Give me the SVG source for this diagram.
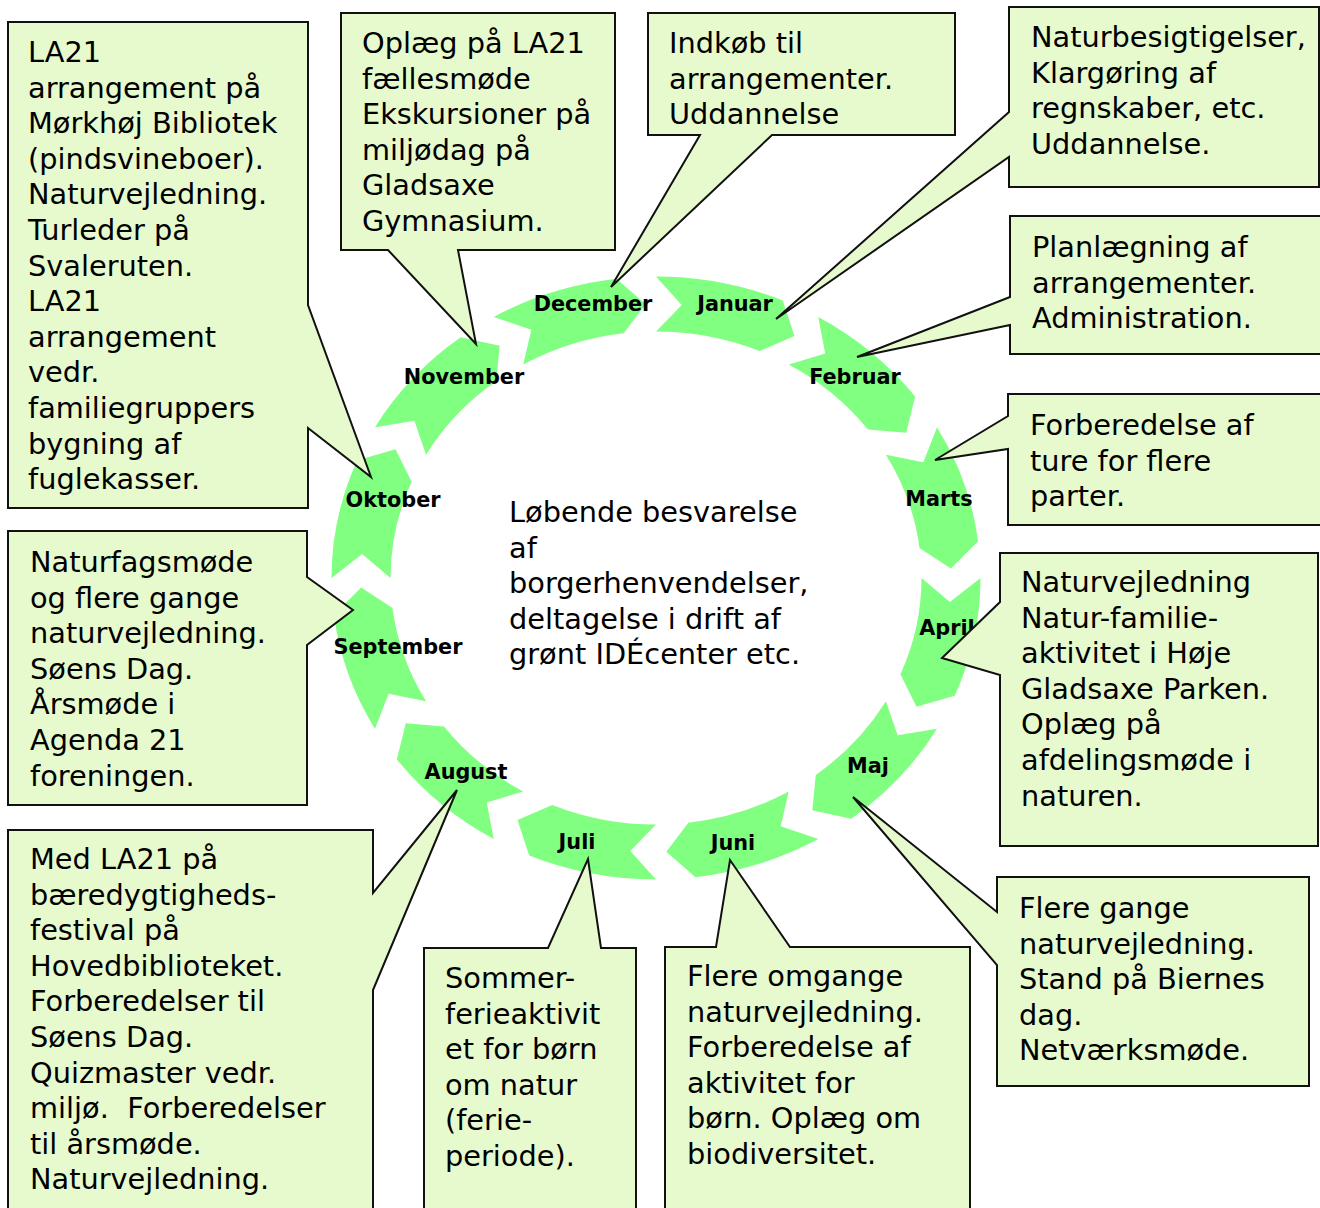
<svg xmlns="http://www.w3.org/2000/svg" width="1320" height="1208" viewBox="0 0 1320 1208">
<style>
.arr{fill:#80FF80}
.mon{font-family:"DejaVu Sans",Verdana,sans-serif;font-weight:bold;font-size:20.8px;fill:#000;text-anchor:middle}
.co{fill:#E6FACE;stroke:#111;stroke-width:2;stroke-linejoin:miter}
.t{font-family:"DejaVu Sans",Verdana,sans-serif;font-size:28.8px;fill:#000;white-space:pre}
</style>
<defs>
<path id="arrow" d="M1.1,0 A1.1,1.1 0 0 1 1.01255,0.42977 L0.88295,0.46947 L0.82845,0.35163 A0.9,0.9 0 0 0 0.9,0 L0.99619,0.08716 Z"/>
</defs>
<rect width="1320" height="1208" fill="#fff"/>
<g id="connectors">
<g id="m-januar"><use href="#arrow" class="arr" transform="translate(656,578) scale(295,274) rotate(270)"/><text class="mon" x="735" y="311">Januar</text></g>
<g id="m-februar"><use href="#arrow" class="arr" transform="translate(656,578) scale(295,274) rotate(300)"/><text class="mon" x="855" y="384">Februar</text></g>
<g id="m-marts"><use href="#arrow" class="arr" transform="translate(656,578) scale(295,274) rotate(330)"/><text class="mon" x="939" y="506">Marts</text></g>
<g id="m-april"><use href="#arrow" class="arr" transform="translate(656,578) scale(295,274) rotate(0)"/><text class="mon" x="947" y="635">April</text></g>
<g id="m-maj"><use href="#arrow" class="arr" transform="translate(656,578) scale(295,274) rotate(30)"/><text class="mon" x="868" y="773">Maj</text></g>
<g id="m-juni"><use href="#arrow" class="arr" transform="translate(656,578) scale(295,274) rotate(60)"/><text class="mon" x="733" y="850">Juni</text></g>
<g id="m-juli"><use href="#arrow" class="arr" transform="translate(656,578) scale(295,274) rotate(90)"/><text class="mon" x="577" y="849">Juli</text></g>
<g id="m-august"><use href="#arrow" class="arr" transform="translate(656,578) scale(295,274) rotate(120)"/><text class="mon" x="466" y="779">August</text></g>
<g id="m-september"><use href="#arrow" class="arr" transform="translate(656,578) scale(295,274) rotate(150)"/><text class="mon" x="398" y="654">September</text></g>
<g id="m-oktober"><use href="#arrow" class="arr" transform="translate(656,578) scale(295,274) rotate(180)"/><text class="mon" x="393" y="507">Oktober</text></g>
<g id="m-november"><use href="#arrow" class="arr" transform="translate(656,578) scale(295,274) rotate(210)"/><text class="mon" x="464" y="384">November</text></g>
<g id="m-december"><use href="#arrow" class="arr" transform="translate(656,578) scale(295,274) rotate(240)"/><text class="mon" x="593" y="311">December</text></g>
</g>
<g id="center-text">
<text class="t" x="509" y="522">Løbende besvarelse<tspan x="509" dy="35.6">af</tspan><tspan x="509" dy="35.6">borgerhenvendelser,</tspan><tspan x="509" dy="35.6">deltagelse i drift af</tspan><tspan x="509" dy="35.6">grønt IDÉcenter etc.</tspan></text>
</g>
<g id="callouts">
<g id="c-oktober">
<path class="co" d="M8,22 H308 V305 L371,477 L308,428 V508 H8 Z"/>
<text class="t" x="28" y="62">LA21<tspan x="28" dy="35.6">arrangement på</tspan><tspan x="28" dy="35.6">Mørkhøj Bibliotek</tspan><tspan x="28" dy="35.6">(pindsvineboer).</tspan><tspan x="28" dy="35.6">Naturvejledning.</tspan><tspan x="28" dy="35.6">Turleder på</tspan><tspan x="28" dy="35.6">Svaleruten.</tspan><tspan x="28" dy="35.6">LA21</tspan><tspan x="28" dy="35.6">arrangement</tspan><tspan x="28" dy="35.6">vedr.</tspan><tspan x="28" dy="35.6">familiegruppers</tspan><tspan x="28" dy="35.6">bygning af</tspan><tspan x="28" dy="35.6">fuglekasser.</tspan></text>
</g>
<g id="c-november">
<path class="co" d="M341,13 H615 V250 H458 L476,344 L388,250 H341 Z"/>
<text class="t" x="362" y="53">Oplæg på LA21<tspan x="362" dy="35.6">fællesmøde</tspan><tspan x="362" dy="35.6">Ekskursioner på</tspan><tspan x="362" dy="35.6">miljødag på</tspan><tspan x="362" dy="35.6">Gladsaxe</tspan><tspan x="362" dy="35.6">Gymnasium.</tspan></text>
</g>
<g id="c-december">
<path class="co" d="M648,13 H955 V135 H772 L611,287 L700,135 H648 Z"/>
<text class="t" x="669" y="53">Indkøb til<tspan x="669" dy="35.6">arrangementer.</tspan><tspan x="669" dy="35.6">Uddannelse</tspan></text>
</g>
<g id="c-januar">
<path class="co" d="M1009,7 H1319 V187 H1009 V157 L776,319 L1009,112 Z"/>
<text class="t" x="1031" y="47">Naturbesigtigelser,<tspan x="1031" dy="35.6">Klargøring af</tspan><tspan x="1031" dy="35.6">regnskaber, etc.</tspan><tspan x="1031" dy="35.6">Uddannelse.</tspan></text>
</g>
<g id="c-februar">
<path class="co" d="M1010,216 H1322 V354 H1010 V325 L857,357 L1010,297 Z"/>
<text class="t" x="1032" y="257">Planlægning af<tspan x="1032" dy="35.6">arrangementer.</tspan><tspan x="1032" dy="35.6">Administration.</tspan></text>
</g>
<g id="c-marts">
<path class="co" d="M1008,394 H1322 V525 H1008 V449 L935,460 L1008,416 Z"/>
<text class="t" x="1030" y="435">Forberedelse af<tspan x="1030" dy="35.6">ture for flere</tspan><tspan x="1030" dy="35.6">parter.</tspan></text>
</g>
<g id="c-april">
<path class="co" d="M1000,553 H1318 V846 H1000 V675 L942,658 L1000,602 Z"/>
<text class="t" x="1021" y="592">Naturvejledning<tspan x="1021" dy="35.6">Natur-familie-</tspan><tspan x="1021" dy="35.6">aktivitet i Høje</tspan><tspan x="1021" dy="35.6">Gladsaxe Parken.</tspan><tspan x="1021" dy="35.6">Oplæg på</tspan><tspan x="1021" dy="35.6">afdelingsmøde i</tspan><tspan x="1021" dy="35.6">naturen.</tspan></text>
</g>
<g id="c-maj">
<path class="co" d="M997,877 H1309 V1086 H997 V965 L853,797 L997,912 Z"/>
<text class="t" x="1019" y="918">Flere gange<tspan x="1019" dy="35.6">naturvejledning.</tspan><tspan x="1019" dy="35.6">Stand på Biernes</tspan><tspan x="1019" dy="35.6">dag.</tspan><tspan x="1019" dy="35.6">Netværksmøde.</tspan></text>
</g>
<g id="c-juni">
<path class="co" d="M665,947 H716 L730,860 L790,947 H970 V1215 H665 Z"/>
<text class="t" x="687" y="986">Flere omgange<tspan x="687" dy="35.6">naturvejledning.</tspan><tspan x="687" dy="35.6">Forberedelse af</tspan><tspan x="687" dy="35.6">aktivitet for</tspan><tspan x="687" dy="35.6">børn. Oplæg om</tspan><tspan x="687" dy="35.6">biodiversitet.</tspan></text>
</g>
<g id="c-juli">
<path class="co" d="M424,948 H548 L588,859 L601,948 H636 V1215 H424 Z"/>
<text class="t" x="445" y="988">Sommer-<tspan x="445" dy="35.6">ferieaktivit</tspan><tspan x="445" dy="35.6">et for børn</tspan><tspan x="445" dy="35.6">om natur</tspan><tspan x="445" dy="35.6">(ferie-</tspan><tspan x="445" dy="35.6">periode).</tspan></text>
</g>
<g id="c-august">
<path class="co" d="M8,830 H373 V893 L457,790 L373,990 V1215 H8 Z"/>
<text class="t" x="30" y="869">Med LA21 på<tspan x="30" dy="35.6">bæredygtigheds-</tspan><tspan x="30" dy="35.6">festival på</tspan><tspan x="30" dy="35.6">Hovedbiblioteket.</tspan><tspan x="30" dy="35.6">Forberedelser til</tspan><tspan x="30" dy="35.6">Søens Dag.</tspan><tspan x="30" dy="35.6">Quizmaster vedr.</tspan><tspan x="30" dy="35.6">miljø.  Forberedelser</tspan><tspan x="30" dy="35.6">til årsmøde.</tspan><tspan x="30" dy="35.6">Naturvejledning.</tspan></text>
</g>
<g id="c-september">
<path class="co" d="M8,531 H307 V577 L353,610 L307,645 V805 H8 Z"/>
<text class="t" x="30" y="572">Naturfagsmøde<tspan x="30" dy="35.6">og flere gange</tspan><tspan x="30" dy="35.6">naturvejledning.</tspan><tspan x="30" dy="35.6">Søens Dag.</tspan><tspan x="30" dy="35.6">Årsmøde i</tspan><tspan x="30" dy="35.6">Agenda 21</tspan><tspan x="30" dy="35.6">foreningen.</tspan></text>
</g>
</g>
</svg>
